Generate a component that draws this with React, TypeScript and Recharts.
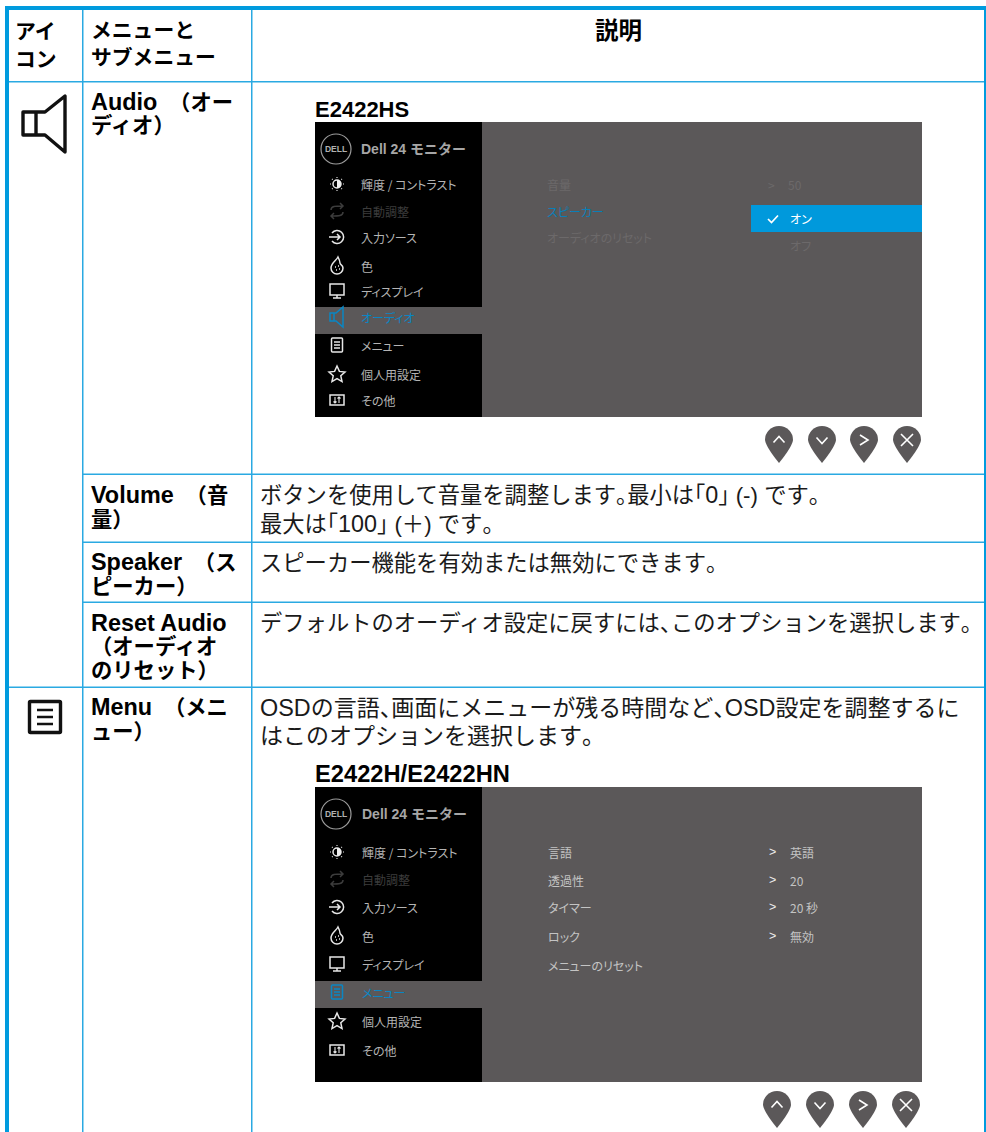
import React from 'react';
import { ScatterChart, Scatter, XAxis, YAxis, ReferenceArea } from 'recharts';

const PAGE_W = 986;
const PAGE_H = 1132;
const THICK = '#009bde';
const THIN = '#2aa9e2';
const GREY = '#5b5859';
const SANS = '"Liberation Sans", "Noto Sans CJK JP", sans-serif';
const CJK = '"Noto Sans CJK JP", "Liberation Sans", sans-serif';

// page text
const headerLabels = ['アイ', 'コン', 'メニューと', 'サブメニュー'];
const headerX = [15, 15, 91, 91];
const headerY = [39, 67, 38, 65];

const menuLabels = [
  'Audio\u00a0 （オー', 'ディオ）', 'Volume\u00a0 （音', '量）', 'Speaker\u00a0 （ス', 'ピーカー）',
  'Reset Audio', '（オーディオ', 'のリセット）', 'Menu\u00a0 （メニ', 'ュー）',
];
const menuY = [110, 133, 503, 527, 570, 594, 631, 654, 678, 715, 739];

const audioBodyLabels = [
  'ボタンを使用して音量を調整します。最小は「0」 (-) です。',
  '最大は「100」 (＋) です。',
  'スピーカー機能を有効または無効にできます。',
  'デフォルトのオーディオ設定に戻すには、このオプションを選択します。',
];
const audioBodyY = [503, 532, 571, 631];
const menuBodyLabels = [
  'OSDの言語、画面にメニューが残る時間など、OSD設定を調整するに',
  'はこのオプションを選択します。',
];
const menuBodyY = [716, 744];

// OSD sidebar, same items in both panels
const sideItems = ['輝度 / コントラスト', '自動調整', '入力ソース', '色', 'ディスプレイ', 'オーディオ', 'メニュー', '個人用設定', 'その他'];
const sideIcons = ['sun', 'swap', 'input', 'palette', 'monitor', 'speaker', 'menu', 'star', 'sliders'];
const audioSideY = [184, 211, 237, 266, 291, 317, 345, 374, 400];
const menuPanelSideY = [852, 879, 907, 936, 964, 992, 1021, 1050];

// second panel has no row for オーディオ
const menuSideItems = sideItems.filter((s) => s !== 'オーディオ');
const menuSideIcons = sideIcons.filter((s) => s !== 'speaker');

const audioOptions = ['音量', 'スピーカー', 'オーディオのリセット'];
const audioOptionY = [184, 211, 237];
const menuOptions = ['言語', '透過性', 'タイマー', 'ロック', 'メニューのリセット'];
const menuOptionY = [852, 880, 907, 936, 965];
const menuValues = ['英語', '20', '20 秒', '無効'];

const pinGlyphs = ['up', 'down', 'right', 'close'];
const audioPinX = [779, 822, 864, 907];
const menuPinX = [777, 820, 863, 906];

const pts = (labels: string[], xs: number | number[], ys: number | number[]) =>
  labels.map((text, i) => ({
    text,
    x: Array.isArray(xs) ? xs[i] : xs,
    y: Array.isArray(ys) ? ys[i] : ys,
  }));

const TextLayer = ({ data, style, central }: any) => (
  <Scatter
    data={data}
    isAnimationActive={false}
    shape={(p: any) => (
      <text x={p.cx} y={p.cy} dominantBaseline={central ? 'central' : undefined} style={style}>
        {p.payload.text}
      </text>
    )}
  />
);

// latin runs are set larger than the kana, punctuation is half width
const MixedLayer = ({ data, latinSize, weight, size, fill }: any) => (
  <Scatter
    data={data}
    isAnimationActive={false}
    shape={(p: any) => (
      <text x={p.cx} y={p.cy} style={{ font: `${weight} ${size}px ${SANS}`, fill, whiteSpace: 'pre' }}>
        {p.payload.text.split(/([A-Za-z0-9]+(?: [A-Za-z]+)*|[、。「」])/).filter(Boolean).map((run: string, i: number) => {
          if (/^[A-Za-z0-9]/.test(run)) return <tspan key={i} fontSize={latinSize}>{run}</tspan>;
          if (/^[、。「」]$/.test(run)) return <tspan key={i} style={{ fontFeatureSettings: '"halt"' }}>{run}</tspan>;
          return <tspan key={i}>{run}</tspan>;
        })}
      </text>
    )}
  />
);

const iconPath = (kind: string) => {
  switch (kind) {
    case 'swap':
      return (
        <g fill="none">
          <path d="M-6 -1 C-6 -5 -2 -5 6 -5 M3 -8 L6 -5 L3 -2" />
          <path d="M6 1 C6 5 2 5 -6 5 M-3 8 L-6 5 L-3 2" />
        </g>
      );
    case 'input':
      return (
        <g fill="none">
          <path d="M-5 -4 A6.5 6.5 0 1 1 -5 4" />
          <path d="M-8 0 H3 M0 -3 L3 0 L0 3" />
        </g>
      );
    case 'palette':
      return (
        <g fill="none">
          <path d="M1 -9 C-1 -5 -6 -3 -6 2 A6 6 0 0 0 6 2 C6 -1 3 -1 3 -3 C3 -5 2 -7 1 -9Z" />
          <path d="M-2 1 h1 M1 0 h1 M-1 4 h1 M2 3 h1" strokeWidth={1.4} />
        </g>
      );
    case 'monitor':
      return (
        <g fill="none">
          <rect x={-7} y={-7} width={14} height={11} />
          <path d="M0 4 V7 M-4 7 H4" />
        </g>
      );
    case 'speaker':
      return <path fill="none" d="M-7 -4 H-1 L6 -10 V10 L-1 4 H-7 Z M-3 -4 V4" />;
    case 'menu':
      return (
        <g fill="none">
          <rect x={-5.5} y={-7} width={11} height={14} rx={1} />
          <path d="M-3 -3 H3 M-3 0 H3 M-3 3 H3" />
        </g>
      );
    case 'star':
      return <path fill="none" d="M0 -8 L2.4 -2.6 L8 -2 L3.8 1.8 L5 7.6 L0 4.6 L-5 7.6 L-3.8 1.8 L-8 -2 L-2.4 -2.6 Z" />;
    case 'sliders':
      return (
        <g fill="none">
          <rect x={-7} y={-5} width={14} height={10} />
          <path d="M-2 -3 V3 M-3.5 1.5 L-2 3 L-0.5 1.5 M2 3 V-3 M0.5 -1.5 L2 -3 L3.5 -1.5" strokeWidth={1.1} />
        </g>
      );
    default:
      return (
        <g>
          <circle r={4} fill="none" />
          <path d="M0 -4 A4 4 0 0 1 0 4 Z" fill="#eee" stroke="none" />
          <path d="M0 -7 v1 M0 6 v1 M-7 0 h1 M6 0 h1 M-5 -5 l.7 .7 M4.3 4.3 l.7 .7 M-5 5 l.7 -.7 M4.3 -4.3 l.7 -.7" fill="none" strokeWidth={1.1} />
        </g>
      );
  }
};

const IconLayer = ({ icons, ys, activeKind }: any) => (
  <Scatter
    data={icons.map((kind: string, i: number) => ({ kind, x: 337, y: ys[i] }))}
    isAnimationActive={false}
    shape={(p: any) => {
      const k = p.payload.kind;
      const color = k === activeKind ? '#0a86c4' : k === 'swap' ? '#3c3c3c' : '#e8e8e8';
      return (
        <g transform={`translate(${p.cx},${p.cy})`} stroke={color} strokeWidth={1.5}>
          {iconPath(k)}
        </g>
      );
    }}
  />
);

const PinLayer = ({ xs, y }: any) => (
  <Scatter
    data={pinGlyphs.map((glyph, i) => ({ glyph, x: xs[i], y }))}
    isAnimationActive={false}
    shape={(p: any) => (
      <g transform={`translate(${p.cx},${p.cy})`}>
        <path d="M-14 0 A14 14 0 1 1 14 0 Q13 7 0 23 Q-13 7 -14 0Z" fill={GREY} />
        <path
          fill="none"
          stroke="#fff"
          strokeWidth={1.6}
          d={
            p.payload.glyph === 'up'
              ? 'M-5.5 2.5 L0 -3.5 L5.5 2.5'
              : p.payload.glyph === 'down'
                ? 'M-5.5 -2.5 L0 3.5 L5.5 -2.5'
                : p.payload.glyph === 'right'
                  ? 'M-4 -5 L4 0 L-4 5'
                  : 'M-6 -6 L6 6 M6 -6 L-6 6'
          }
        />
      </g>
    )}
  />
);

const LogoLayer = ({ y, titleX }: any) => (
  <>
    <Scatter
      data={[{ x: 336, y }]}
      isAnimationActive={false}
      shape={(p: any) => (
        <g>
          <circle cx={p.cx} cy={p.cy} r={15} fill="none" stroke="#9c9c9c" strokeWidth={1.2} />
          <text x={p.cx} y={p.cy} textAnchor="middle" dominantBaseline="central" style={{ font: `700 8.5px ${SANS}`, fill: '#b0b0b0' }}>
            DELL
          </text>
        </g>
      )}
    />
    <TextLayer data={pts(['Dell 24 モニター'], titleX, y)} central style={{ font: `700 14px ${SANS}`, fill: '#a6a6a6' }} />
  </>
);

const Rect = ({ x1, x2, y1, y2, fill }: any) => (
  <ReferenceArea x1={x1} x2={x2} y1={y1} y2={y2} fill={fill} fillOpacity={1} stroke="none" ifOverflow="visible" />
);

const osdFont = { font: `400 12px ${CJK}`, fontFeatureSettings: '"palt"' };

const SideText = ({ items, ys, x, active }: any) => (
  <Scatter
    data={pts(items, x, ys)}
    isAnimationActive={false}
    shape={(p: any) => (
      <text
        x={p.cx}
        y={p.cy}
        dominantBaseline="central"
        style={{ ...osdFont, fill: p.payload.text === active ? '#0a86c4' : p.payload.text === '自動調整' ? '#3c3c3c' : '#b4b4b4' }}
      >
        {p.payload.text}
      </text>
    )}
  />
);

const App = () => (
  <div style={{ position: 'absolute', left: 0, top: 0 }}>
    <ScatterChart width={PAGE_W} height={PAGE_H} margin={{ top: 0, right: 0, bottom: 0, left: 0 }}>
      <XAxis type="number" dataKey="x" domain={[0, PAGE_W]} hide />
      <YAxis type="number" dataKey="y" domain={[0, PAGE_H]} reversed hide />

      {/* table rules */}
      <Rect x1={5} x2={9} y1={6} y2={PAGE_H} fill={THICK} />
      <Rect x1={5} x2={PAGE_W} y1={6} y2={10} fill={THICK} />
      <Rect x1={984} x2={PAGE_W} y1={6} y2={PAGE_H} fill={THICK} />
      <Rect x1={82} x2={83.5} y1={10} y2={PAGE_H} fill={THIN} />
      <Rect x1={251} x2={252.5} y1={10} y2={PAGE_H} fill={THIN} />
      <Rect x1={9} x2={984} y1={81} y2={82.5} fill={THIN} />
      <Rect x1={82} x2={984} y1={473.5} y2={475} fill={THIN} />
      <Rect x1={82} x2={984} y1={541.5} y2={543} fill={THIN} />
      <Rect x1={82} x2={984} y1={601.5} y2={603} fill={THIN} />
      <Rect x1={9} x2={984} y1={686.5} y2={688} fill={THIN} />

      {/* OSD panels */}
      <Rect x1={315} x2={922} y1={122} y2={417} fill={GREY} />
      <Rect x1={315} x2={482} y1={122} y2={307} fill="#000" />
      <Rect x1={315} x2={482} y1={334} y2={417} fill="#000" />
      <Rect x1={751} x2={922} y1={205} y2={232} fill="#0099dc" />
      <Rect x1={315} x2={922} y1={787} y2={1082} fill={GREY} />
      <Rect x1={315} x2={482} y1={787} y2={981} fill="#000" />
      <Rect x1={315} x2={482} y1={1008} y2={1082} fill="#000" />

      {/* header and table text */}
      <TextLayer data={pts(headerLabels, headerX, headerY)} style={{ font: `700 20.8px ${SANS}`, fill: '#000' }} />
      <TextLayer data={pts(['説明'], 595, 39)} style={{ font: `700 23.5px ${SANS}`, fill: '#000' }} />
      <MixedLayer data={pts(menuLabels, 91, menuY)} weight={700} size={21.3} latinSize={23.4} fill="#000" />
      <MixedLayer data={pts(audioBodyLabels, 260, audioBodyY)} weight={400} size={22.3} latinSize={23.4} fill="#1a1a1a" />
      <MixedLayer data={pts(menuBodyLabels, 260, menuBodyY)} weight={400} size={23} latinSize={23.4} fill="#1a1a1a" />
      <TextLayer data={pts(['E2422HS'], 315, 117)} style={{ font: `700 22px ${SANS}`, fill: '#000' }} />
      <TextLayer data={pts(['E2422H/E2422HN'], 315, 782)} style={{ font: `700 23.7px ${SANS}`, fill: '#000' }} />

      {/* speaker and menu icons of the first column */}
      <Scatter
        data={[{ x: 44, y: 124 }]}
        isAnimationActive={false}
        shape={(p: any) => (
          <g transform={`translate(${p.cx},${p.cy})`} fill="none" stroke="#111" strokeWidth={3.4} strokeLinejoin="round">
            <path d="M-21 -12 H1 L21 -28 V28 L1 11 H-21 Z M-8 -12 V11" />
          </g>
        )}
      />
      <Scatter
        data={[{ x: 45, y: 717 }]}
        isAnimationActive={false}
        shape={(p: any) => (
          <g transform={`translate(${p.cx},${p.cy})`} fill="none" stroke="#111" strokeWidth={3.4}>
            <rect x={-15.5} y={-15.5} width={31} height={31} rx={1} />
            <path d="M-8 -7 H8 M-8 0 H8 M-8 7 H8" strokeWidth={2.6} />
          </g>
        )}
      />

      {/* audio panel */}
      <LogoLayer y={149} titleX={361} />
      <IconLayer icons={sideIcons} ys={audioSideY} activeKind="speaker" />
      <SideText items={sideItems} ys={audioSideY} x={361} active="オーディオ" />
      <Scatter
        data={pts(audioOptions, 547, audioOptionY)}
        isAnimationActive={false}
        shape={(p: any) => (
          <text
            x={p.cx}
            y={p.cy}
            dominantBaseline="central"
            style={{ ...osdFont, fill: p.payload.text === 'スピーカー' ? '#0a7fb8' : '#6c696a' }}
          >
            {p.payload.text}
          </text>
        )}
      />
      <TextLayer data={pts(['>', '50', 'オフ'], [768, 788, 790], [184, 184, 245])} central style={{ ...osdFont, fill: '#6c696a' }} />
      <TextLayer data={pts(['オン'], 790, 218)} central style={{ ...osdFont, fill: '#fff' }} />
      <Scatter
        data={[{ x: 773, y: 219 }]}
        isAnimationActive={false}
        shape={(p: any) => (
          <path transform={`translate(${p.cx},${p.cy})`} d="M-5 0 L-1.5 3.5 L5 -3.5" fill="none" stroke="#fff" strokeWidth={1.7} />
        )}
      />
      <PinLayer xs={audioPinX} y={440} />

      {/* menu panel */}
      <LogoLayer y={814} titleX={362} />
      <IconLayer icons={menuSideIcons} ys={menuPanelSideY} activeKind="menu" />
      <SideText items={menuSideItems} ys={menuPanelSideY} x={362} active="メニュー" />
      <TextLayer data={pts(menuOptions, 548, menuOptionY)} central style={{ ...osdFont, fill: '#c4c4c4' }} />
      <TextLayer data={pts(menuValues.map(() => '>'), 769, menuOptionY)} central style={{ font: `400 12.5px ${SANS}`, fill: '#eee' }} />
      <TextLayer data={pts(menuValues, 790, menuOptionY)} central style={{ ...osdFont, fill: '#c4c4c4' }} />
      <PinLayer xs={menuPinX} y={1105} />
    </ScatterChart>
  </div>
);

export default App;
